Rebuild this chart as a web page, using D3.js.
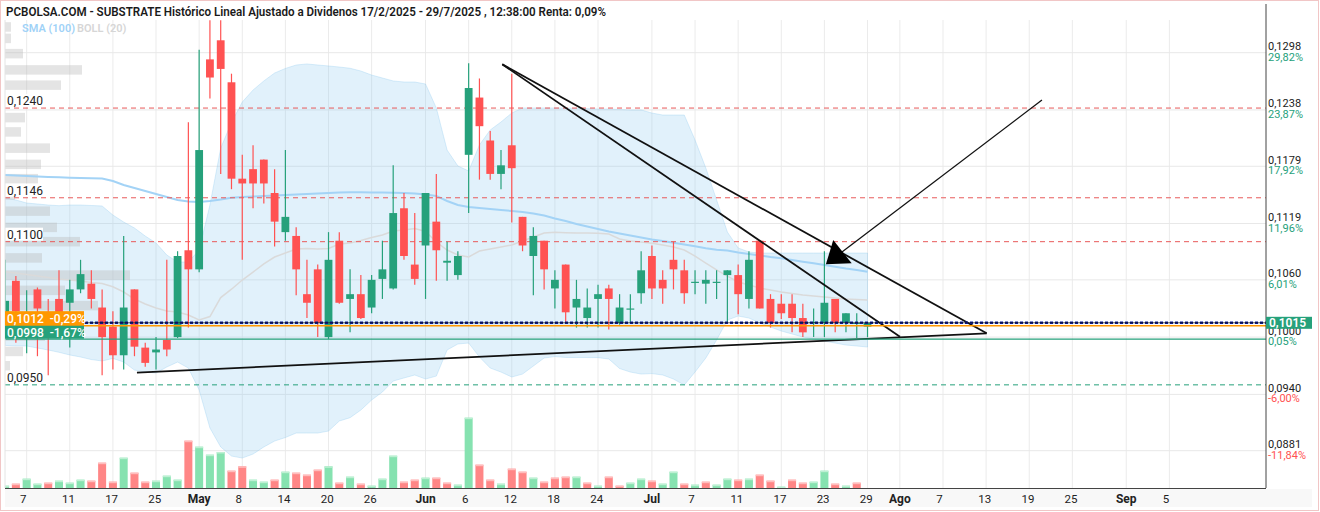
<!DOCTYPE html>
<html><head><meta charset="utf-8">
<script src="https://cdn.jsdelivr.net/npm/d3@7"></script>
<style>body{margin:0;background:#fff}svg{display:block;font-family:Roboto,"Liberation Sans",Arial,sans-serif}</style>
</head><body><svg id="c" width="1320" height="512"></svg>
<script>
// ---- DATA (trading day k = 0 is 2025-04-03) ----
const opens=[0.1020,0.1059,0.1016,0.1050,0.1026,0.1040,0.1036,0.1050,0.1056,0.1031,
0.1011,0.0981,0.1050,0.0989,0.0984,0.0997,0.1000,0.1091,0.1071,0.1291,
0.1311,0.1267,0.1166,0.1176,0.1186,0.1151,0.1110,0.1106,0.1045,0.1071,
0.1000,0.1101,0.1040,0.1045,0.1031,0.1061,0.1051,0.1135,0.1076,0.1096,
0.1121,0.1078,0.1065,0.1191,0.1251,0.1206,0.1171,0.1201,0.1126,0.1085,
0.1101,0.1051,0.1076,0.1031,0.1020,0.1040,0.1051,0.1015,0.1030,0.1046,
0.1085,0.1060,0.1081,0.1070,0.1057,0.1056,0.1057,0.1065,0.1065,0.1040,
0.1101,0.1040,0.1035,0.1035,0.1020,0.1015,0.1015,0.1040,0.1015,0.1014,0.1011];
const highs=[0.1081,0.1064,0.1049,0.1052,0.1040,0.1070,0.1060,0.1081,0.1070,0.1050,
0.1027,0.1106,0.1050,0.0994,0.1000,0.1081,0.1090,0.1225,0.1301,0.1332,
0.1332,0.1276,0.1191,0.1201,0.1186,0.1176,0.1196,0.1115,0.1081,0.1076,
0.1110,0.1110,0.1071,0.1065,0.1065,0.1101,0.1180,0.1151,0.1130,0.1151,
0.1171,0.1100,0.1090,0.1287,0.1271,0.1216,0.1196,0.1276,0.1126,0.1115,
0.1101,0.1070,0.1076,0.1060,0.1051,0.1055,0.1055,0.1045,0.1045,0.1090,
0.1096,0.1070,0.1100,0.1081,0.1070,0.1070,0.1070,0.1070,0.1076,0.1090,
0.1101,0.1045,0.1045,0.1045,0.1035,0.1030,0.1090,0.1040,0.1025,0.1025,0.1015];
const lows=[0.1012,0.0994,0.0983,0.0980,0.0960,0.1008,0.0989,0.1046,0.1030,0.0960,
0.0966,0.0966,0.0980,0.0969,0.0966,0.0980,0.0999,0.1010,0.1068,0.1250,
0.1171,0.1155,0.1081,0.1135,0.1140,0.1095,0.1101,0.1044,0.1020,0.1000,
0.0998,0.1035,0.1005,0.1019,0.1025,0.1040,0.1050,0.1081,0.1055,0.1040,
0.1059,0.1059,0.1060,0.1130,0.1165,0.1165,0.1155,0.1120,0.1090,0.1044,
0.1050,0.1030,0.1015,0.1010,0.1010,0.1010,0.1008,0.1013,0.1015,0.1035,
0.1040,0.1035,0.1050,0.1035,0.1045,0.1035,0.1040,0.1015,0.1024,0.1030,
0.1030,0.1010,0.1019,0.1005,0.1000,0.1000,0.1000,0.1005,0.1005,0.0999,0.1000];
const closes=[0.1038,0.1027,0.1022,0.1030,0.1018,0.1022,0.1050,0.1066,0.1040,0.1000,
0.0981,0.1031,0.0990,0.0973,0.0987,0.0987,0.1085,0.1071,0.1196,0.1272,
0.1281,0.1166,0.1161,0.1161,0.1161,0.1121,0.1126,0.1071,0.1036,0.1015,
0.1081,0.1036,0.1045,0.1020,0.1060,0.1071,0.1130,0.1085,0.1061,0.1151,
0.1091,0.1080,0.1085,0.1261,0.1221,0.1171,0.1180,0.1177,0.1096,0.1106,
0.1071,0.1060,0.1026,0.1040,0.1031,0.1045,0.1040,0.1031,0.1030,0.1070,
0.1051,0.1051,0.1071,0.1046,0.1058,0.1060,0.1058,0.1070,0.1045,0.1081,
0.1030,0.1015,0.1025,0.1020,0.1005,0.1016,0.1036,0.1015,0.1025,0.1015,0.1015];
const volumes=[23,43,93,43,53,73,53,83,73,253,
63,303,153,63,73,123,83,473,413,333,
360,173,217,83,63,83,163,153,133,183,
217,53,113,43,23,93,323,63,83,103,
103,53,33,703,233,83,43,193,163,103,
63,103,113,113,53,23,113,23,53,93,
73,43,163,43,33,63,33,93,83,93,
133,73,13,83,53,63,173,43,23,53,0];
const volUp=[1,0,1,1,0,1,1,1,0,0, 0,1,0,0,1,1,1,0,1,1, 1,0,0,1,1,0,1,0,0,0, 1,0,1,0,1,1,1,0,0,1,
0,0,1,1,0,0,1,0,0,1, 0,0,0,1,0,1,0,0,1,1, 0,1,1,0,1,0,1,1,0,1, 0,0,1,0,0,1,1,0,1,0,1];
const sma100=[0.11699,0.11693,0.11688,0.11683,0.11678,0.11674,0.11671,0.11667,0.11665,0.11662,
0.11636,0.11594,0.11562,0.11531,0.1150,0.11468,0.11437,0.11421,0.11416,0.11426,
0.11442,0.11461,0.11468,0.11473,0.11479,0.11484,0.11489,0.11494,0.1150,0.11505,
0.1151,0.11515,0.11517,0.11517,0.11515,0.11515,0.11513,0.1151,0.11505,0.11494,
0.11479,0.11426,0.11384,0.11363,0.11353,0.11342,0.11332,0.11321,0.11311,0.11295,
0.11274,0.11243,0.11217,0.11185,0.11159,0.11133,0.11107,0.11086,0.11065,0.11044,
0.11023,0.11007,0.10989,0.1097,0.10952,0.10932,0.10915,0.10908,0.10887,0.10871,
0.10855,0.10839,0.10826,0.10808,0.1079,0.10773,0.10756,0.10738,0.10719,0.10703,0.10685];
const bollUpper=[0.11458,0.11437,0.11405,0.11395,0.11384,0.11377,0.11384,0.11384,0.11379,0.11374,
0.11279,0.11206,0.11143,0.11059,0.10986,0.1086,0.10787,0.10787,0.10913,0.11384,
0.11980,0.12250,0.12463,0.12589,0.12684,0.12767,0.12815,0.12851,0.12862,0.12851,
0.12841,0.1283,0.12817,0.12788,0.12746,0.12715,0.12684,0.12673,0.12673,0.12652,
0.12401,0.1196,0.11793,0.11741,0.12013,0.1217,0.12254,0.12348,0.12401,0.12401,
0.12401,0.12401,0.12401,0.12395,0.12395,0.1239,0.1239,0.12385,0.1238,0.1238,
0.12348,0.12327,0.12327,0.12327,0.12065,0.11772,0.11437,0.11101,0.10934,0.10892,
0.10881,0.10881,0.10881,0.10881,0.10881,0.10881,0.10881,0.10881,0.10881,0.10881,0.10881];
const bollLower=[0.09913,0.09907,0.09907,0.09886,0.09865,0.09841,0.09813,0.09792,0.09765,0.0975,
0.09777,0.09739,0.09655,0.09634,0.09624,0.09687,0.09739,0.09676,0.09446,0.09048,
0.08849,0.08754,0.08733,0.08775,0.08849,0.08911,0.08948,0.08995,0.08995,0.08995,
0.09016,0.09121,0.09156,0.09236,0.09341,0.09425,0.0954,0.09572,0.09603,0.09561,
0.09592,0.09865,0.09928,0.09938,0.09792,0.09676,0.09634,0.09582,0.09613,0.09697,
0.09781,0.09796,0.09787,0.09786,0.09786,0.09785,0.09771,0.09671,0.09634,0.09613,
0.09618,0.09603,0.09561,0.09498,0.09634,0.09781,0.0997,0.10179,0.10221,0.102,
0.10148,0.10106,0.10064,0.10033,0.10001,0.0998,0.09959,0.09938,0.09917,0.09907,0.09896];
const yTicks=[0.1298,0.1238,0.1179,0.1119,0.1060,0.1000,0.0940,0.0881];
const yTickPct=["29,82%","23,87%","17,92%","11,96%","6,01%","0,05%","-6,00%","-11,84%"];
const tickDates=["2025-04-07","2025-04-11","2025-04-17","2025-04-25","2025-05-02","2025-05-08","2025-05-14","2025-05-20","2025-05-26",
"2025-06-02","2025-06-06","2025-06-12","2025-06-18","2025-06-24","2025-07-01","2025-07-07","2025-07-11","2025-07-17","2025-07-23","2025-07-29",
"2025-08-01","2025-08-07","2025-08-13","2025-08-19","2025-08-25","2025-09-01","2025-09-05"];
const tickLabels=["7","11","17","25","May","8","14","20","26","Jun","6","12","18","24","Jul","7","11","17","23","29","Ago","7","13","19","25","Sep","5"];
const redLevels=[0.1240,0.1146,0.1100];
const greenLevels=[0.0950];
const profilePrices=[0.1325,0.1313,0.1297,0.1280,0.1264,0.1247,0.1230,0.1215,0.1198,0.1181,0.1166,0.1149,0.1132,0.1115,0.1100,0.1083,0.1065,0.1049,0.1033,0.1017,0.1001,0.0985,0.0970];
const profileVols=[6,6,18,77,56,30,20,16,45,36,33,10,45,52,75,37,125,60,93,40,40,18,5];
const lastPrice=0.1015, prevLine=0.1012, refLine=0.0998;
const trendLines=[[12.23,0.09629,91.05,0.1004],[46.12,0.12858,83.01,0.10004],[46.12,0.12858,91.05,0.1004]];
const arrowLine=[96.18,0.12484,77.63,0.10892];
const arrowHead=[[76.82,0.11017],[76.14,0.10763],[78.53,0.10773]];
const holidays=["2025-04-18","2025-04-21","2025-05-01"];

// ---- trading calendar ----
const days=[];
for(let t=Date.UTC(2025,3,3);t<=Date.UTC(2025,8,30);t+=864e5){const d=new Date(t),w=d.getUTCDay(),s=d.toISOString().slice(0,10);if(w!==0&&w!==6&&!holidays.includes(s))days.push(s);}

const svg=d3.select("#c");
const L=5,R=1266,T=20,B=488;
const x=d3.scaleLinear().domain([0,117]).range([5.1,1266.4]);
const y=d3.scaleLinear().domain([0.0881,0.1298]).range([450.7,52.7]);
const yv=d3.scaleLinear().domain([0,1000]).range([B,B-100]);
const px=d3.scaleLinear().domain([0,100]).range([L,L+100]);
const fmt=v=>v.toFixed(4).replace(".",",");
const GREEN="#26a17b",RED="#ff5252";

svg.append("rect").attr("width",1320).attr("height",512).attr("fill","#fff");
svg.append("defs").append("clipPath").attr("id","pc").append("rect").attr("x",L).attr("y",T).attr("width",R-L).attr("height",B-T);
svg.append("rect").attr("x",L).attr("y",B+1).attr("width",1307).attr("height",18).attr("fill","#f8f8f8");

const g=svg.append("g").attr("clip-path","url(#pc)");
const tickIdx=tickDates.map(d=>days.indexOf(d));
g.selectAll(".vg").data(tickIdx).join("line").attr("x1",d=>x(d)).attr("x2",d=>x(d)).attr("y1",T).attr("y2",B).attr("stroke","#ebebeb");
g.selectAll(".hg").data(yTicks).join("line").attr("x1",L).attr("x2",R).attr("y1",d=>y(d)).attr("y2",d=>y(d)).attr("stroke","#e8e8e8");

const idx=d3.range(opens.length);
g.append("path").datum(idx).attr("d",d3.area().x(k=>x(k)).y0(k=>y(bollLower[k])).y1(k=>y(bollUpper[k])))
 .attr("fill","rgba(135,200,240,0.25)").attr("stroke","rgba(135,200,240,0.3)");
g.selectAll(".pf").data(profilePrices).join("rect").attr("x",L).attr("y",d=>y(d)-4.75).attr("height",9.5)
 .attr("width",(d,i)=>px(profileVols[i])-L).attr("fill","rgba(185,185,185,0.38)");
g.append("path").datum(idx).attr("d",d3.line().x(k=>x(k)).y(k=>y((bollUpper[k]+bollLower[k])/2))).attr("fill","none").attr("stroke","#dadada").attr("stroke-width",1.5);
g.append("path").datum(idx).attr("d",d3.line().x(k=>x(k)).y(k=>y(sma100[k]))).attr("fill","none").attr("stroke","#a3d3f6").attr("stroke-width",2);

g.selectAll(".vb").data(idx.filter(k=>volumes[k]>0)).join("rect").attr("x",k=>x(k)-4).attr("width",8)
 .attr("y",k=>yv(volumes[k])).attr("height",k=>B-yv(volumes[k])).attr("fill",k=>volUp[k]?"#86e2b0":"#ff8686");
g.selectAll(".vt").data(idx.filter(k=>volumes[k]>0)).join("rect").attr("x",k=>x(k)-4).attr("width",8)
 .attr("y",k=>yv(volumes[k])).attr("height",1.5).attr("fill",k=>volUp[k]?"#bdf0d3":"#ffbdbd");

g.selectAll(".rl").data(redLevels).join("line").attr("x1",L).attr("x2",R).attr("y1",d=>y(d)).attr("y2",d=>y(d)).attr("stroke","#e85a5a").attr("stroke-dasharray","5,4");
g.selectAll(".gl").data(greenLevels).join("line").attr("x1",L).attr("x2",R).attr("y1",d=>y(d)).attr("y2",d=>y(d)).attr("stroke",GREEN).attr("stroke-dasharray","5,4");

const cg=g.append("g");
idx.forEach(k=>{const up=closes[k]>=opens[k],c=up?GREEN:RED,cx=x(k);
 cg.append("line").attr("x1",cx).attr("x2",cx).attr("y1",y(highs[k])).attr("y2",y(lows[k])).attr("stroke",c).attr("stroke-width",1.2);
 const y0=y(Math.max(opens[k],closes[k])),y1=y(Math.min(opens[k],closes[k]));
 cg.append("rect").attr("x",cx-3.9).attr("width",7.8).attr("y",y0).attr("height",Math.max(1.2,y1-y0)).attr("fill",c);});

trendLines.forEach(t=>g.append("line").attr("x1",x(t[0])).attr("y1",y(t[1])).attr("x2",x(t[2])).attr("y2",y(t[3])).attr("stroke","#111").attr("stroke-width",1.8));
g.append("line").attr("x1",x(arrowLine[0])).attr("y1",y(arrowLine[1])).attr("x2",x(arrowLine[2])).attr("y2",y(arrowLine[3])).attr("stroke","#111").attr("stroke-width",1.3);
g.append("polygon").attr("points",arrowHead.map(p=>x(p[0])+","+y(p[1])).join(" ")).attr("fill","#000");

g.append("line").attr("x1",L).attr("x2",R).attr("y1",y(refLine)).attr("y2",y(refLine)).attr("stroke",GREEN).attr("stroke-width",1.2);
g.append("line").attr("x1",L).attr("x2",R).attr("y1",y(prevLine)).attr("y2",y(prevLine)).attr("stroke","#ff9800").attr("stroke-width",1.5);
g.append("line").attr("x1",L).attr("x2",R).attr("y1",y(lastPrice)).attr("y2",y(lastPrice)).attr("stroke","#0d1d9a").attr("stroke-width",2.6).attr("stroke-dasharray","3,2");
g.append("line").attr("x1",L).attr("x2",R).attr("y1",y(lastPrice)).attr("y2",y(lastPrice)).attr("stroke","#111").attr("stroke-width",0.7);

// level labels
[...redLevels,...greenLevels].forEach(v=>{const yy=y(v);
 svg.append("rect").attr("x",L).attr("y",yy-14).attr("width",38).attr("height",13).attr("fill","#fff");
 svg.append("text").attr("x",7).attr("y",yy-3).attr("font-size",12).attr("fill","#222").text(fmt(v));});

// frame
svg.append("line").attr("x1",R).attr("x2",R).attr("y1",4).attr("y2",B).attr("stroke","#444");
svg.append("line").attr("x1",L).attr("x2",R).attr("y1",B+0.5).attr("y2",B+0.5).attr("stroke","#444");
svg.append("line").attr("x1",L).attr("x2",L).attr("y1",T).attr("y2",B).attr("stroke","#e4e4e4");

// right axis
yTicks.forEach((v,i)=>{const yy=y(v);
 svg.append("text").attr("x",1268).attr("y",yy-2.5).attr("font-size",11).attr("fill","#222").text(fmt(v));
 svg.append("text").attr("x",1268).attr("y",yy+8).attr("font-size",11).attr("fill",yTickPct[i][0]==="-"?RED:GREEN).text(yTickPct[i]);});
svg.append("rect").attr("x",1266).attr("y",y(lastPrice)-6).attr("width",46).attr("height",12).attr("fill",GREEN);
svg.append("text").attr("x",1269).attr("y",y(lastPrice)+4.2).attr("font-size",12).attr("font-weight",600).attr("fill","#fff").text(fmt(lastPrice));

// left current labels
svg.append("rect").attr("x",L).attr("y",y(prevLine)-14.5).attr("width",79).attr("height",14.5).attr("fill","#ff9800");
svg.append("text").attr("x",7).attr("y",y(prevLine)-3).attr("font-size",12).attr("font-weight",500).attr("fill","#fff").attr("xml:space","preserve").text(fmt(prevLine)+"  -0,29%");
svg.append("rect").attr("x",L).attr("y",y(refLine)-13.3).attr("width",79).attr("height",13).attr("fill",GREEN);
svg.append("text").attr("x",7).attr("y",y(refLine)-2.5).attr("font-size",12).attr("font-weight",500).attr("fill","#fff").attr("xml:space","preserve").text(fmt(refLine)+"  -1,67%");

// x axis labels
tickIdx.forEach((k,i)=>{const lab=tickLabels[i],bold=/[A-Za-z]/.test(lab);
 const dx=bold?0:(lab.length===1?-3.5:-1.3);
 svg.append("text").attr("x",x(k)+dx).attr("y",503).attr("text-anchor","middle").attr("font-size",bold?12:11.5)
  .attr("font-weight",bold?700:400).attr("fill","#222").text(lab);});

// title + legend
svg.append("text").attr("x",6).attr("y",16).attr("font-size",12).attr("font-weight",600).attr("fill","#1a1a1a")
 .attr("textLength",600).attr("lengthAdjust","spacingAndGlyphs")
 .text("PCBOLSA.COM - SUBSTRATE Histórico Lineal Ajustado a Dividenos 17/2/2025 - 29/7/2025 , 12:38:00 Renta: 0,09%");
svg.append("text").attr("x",22).attr("y",32).attr("font-size",11).attr("font-weight",600).attr("fill","#9fd2f7").text("SMA (100)");
svg.append("text").attr("x",77).attr("y",32).attr("font-size",11).attr("font-weight",600).attr("fill","#d6d6d6").text("BOLL (20)");
svg.append("rect").attr("x",0.5).attr("y",0.5).attr("width",1318).attr("height",510).attr("fill","none").attr("stroke","#f1c6c6");
</script></body></html>
